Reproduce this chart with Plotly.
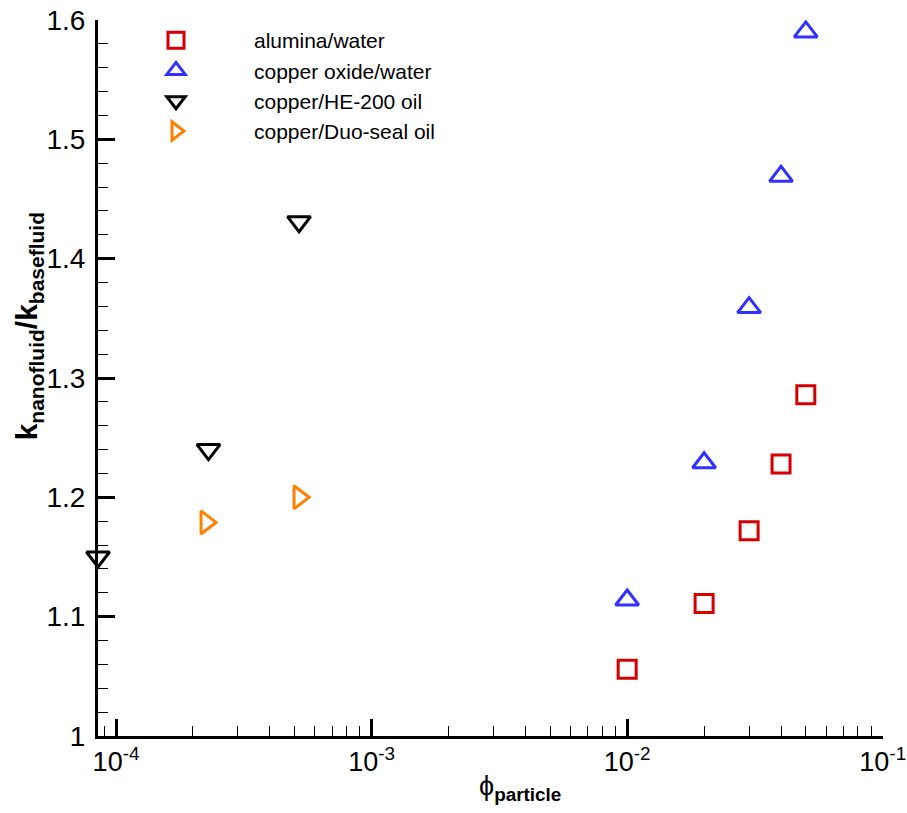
import plotly.graph_objects as go
import math

# ---- data ----
alumina_x = [0.01, 0.02, 0.03, 0.04, 0.05]
alumina_y = [1.056, 1.111, 1.172, 1.228, 1.286]

cuo_x = [0.01, 0.02, 0.03, 0.04, 0.05]
cuo_y = [1.114, 1.229, 1.359, 1.469, 1.590]

he200_x = [8.5e-5, 2.3e-4, 5.2e-4]
he200_y = [1.150, 1.240, 1.431]

duo_x = [2.25e-4, 5.2e-4]
duo_y = [1.179, 1.200]

x_tickvals = [1e-4, 1e-3, 1e-2, 1e-1]
x_ticktext = ["10<sup>-4</sup>", "10<sup>-3</sup>", "10<sup>-2</sup>", "10<sup>-1</sup>"]
y_tickvals = [1.0, 1.1, 1.2, 1.3, 1.4, 1.5, 1.6]
y_ticktext = ["1", "1.1", "1.2", "1.3", "1.4", "1.5", "1.6"]

FONT = "Arial, Liberation Sans, sans-serif"

fig = go.Figure()
fig.add_trace(go.Scatter(x=alumina_x, y=alumina_y, mode="markers", name="alumina/water",
                         marker=dict(symbol="square-open", size=18, color="#d40000",
                                     line=dict(width=3, color="#d40000"))))
fig.add_trace(go.Scatter(x=cuo_x, y=cuo_y, mode="markers", name="copper oxide/water",
                         marker=dict(symbol="triangle-up-open", size=20, color="#3030ff",
                                     line=dict(width=3, color="#3030ff"))))
fig.add_trace(go.Scatter(x=he200_x, y=he200_y, mode="markers", name="copper/HE-200 oil",
                         marker=dict(symbol="triangle-down-open", size=20, color="black",
                                     line=dict(width=3, color="black")), cliponaxis=False))
fig.add_trace(go.Scatter(x=duo_x, y=duo_y, mode="markers", name="copper/Duo-seal oil",
                         marker=dict(symbol="triangle-right-open", size=20, color="#ff8000",
                                     line=dict(width=3, color="#ff8000"))))

fig.update_layout(
    width=907, height=813,
    margin=dict(l=98, r=24, t=20, b=77, autoexpand=False),
    plot_bgcolor="white", paper_bgcolor="white",
    font=dict(family=FONT, color="black"),
    showlegend=True,
    legend=dict(x=0.0, y=1.0, xanchor="left", yanchor="top",
                font=dict(size=21, family=FONT), itemwidth=146,
                bgcolor="rgba(0,0,0,0)", tracegroupgap=0),
)
fig.update_xaxes(
    type="log", range=[math.log10(8.5e-5), -0.999], automargin=False,
    showline=True, linewidth=3, linecolor="black", mirror=False,
    showgrid=False, zeroline=False,
    ticks="inside", ticklen=17, tickwidth=3, tickcolor="black",
    tickvals=x_tickvals, ticktext=x_ticktext,
    tickfont=dict(size=27, family=FONT), ticklabeloverflow="allow",
    minor=dict(ticks="inside", ticklen=10, tickwidth=1, tickcolor="black", dtick="D1", showgrid=False),
)
fig.update_yaxes(
    range=[1.0, 1.6], automargin=False,
    showline=True, linewidth=3, linecolor="black", mirror=False,
    showgrid=False, zeroline=False,
    ticks="inside", ticklen=17, tickwidth=3, tickcolor="black",
    tickvals=y_tickvals, ticktext=y_ticktext,
    tickfont=dict(size=28, family=FONT), ticklabeloverflow="allow",
    ticklabelstandoff=4,
    minor=dict(ticks="inside", ticklen=10, tickwidth=1, tickcolor="black", dtick=0.02, showgrid=False),
)

fig.add_annotation(
    text="<b>k<sub>nanofluid</sub>/k<sub>basefluid</sub></b>",
    xref="paper", yref="paper", x=-0.088, y=0.572, xanchor="center", yanchor="middle",
    textangle=-90, showarrow=False, font=dict(size=30, family=FONT),
)
fig.add_annotation(
    text="ϕ<b><sub>particle</sub></b>",
    xref="paper", yref="paper", x=0.537, y=-0.072, xanchor="center", yanchor="middle",
    showarrow=False, font=dict(size=27, family=FONT),
)

fig.write_html("out.html")
